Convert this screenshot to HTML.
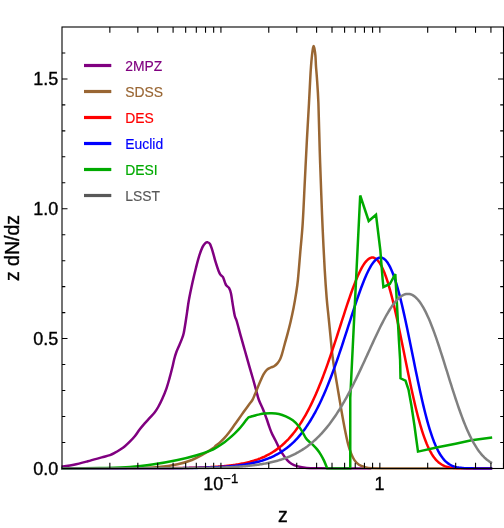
<!DOCTYPE html>
<html><head><meta charset="utf-8"><style>
html,body{margin:0;padding:0;background:#fff;}
svg{display:block;will-change:transform;font-family:"Liberation Sans",sans-serif;}
</style></head><body>
<svg width="504" height="528" viewBox="0 0 504 528">
<rect width="504" height="528" fill="#fff"/>
<defs><clipPath id="c"><rect x="61.4" y="27.0" width="442.1" height="442.8"/></clipPath></defs>
<g clip-path="url(#c)" fill="none" stroke-width="2.5" stroke-linejoin="round" stroke-linecap="square">
<path stroke="#800080" d="M62.30 466.50 C64.23 466.20 69.65 465.57 73.90 464.70 C78.15 463.82 83.17 462.47 87.80 461.25 C92.43 460.03 98.00 458.42 101.70 457.40 C105.40 456.38 107.78 455.88 110.00 455.10 C112.22 454.32 113.35 453.60 115.00 452.70 C116.65 451.80 118.25 450.78 119.90 449.70 C121.55 448.62 123.25 447.53 124.90 446.20 C126.55 444.87 128.15 443.35 129.80 441.70 C131.45 440.05 133.13 438.37 134.80 436.30 C136.47 434.23 138.15 431.45 139.80 429.30 C141.45 427.15 143.05 425.30 144.70 423.40 C146.35 421.50 148.05 419.72 149.70 417.90 C151.35 416.08 153.18 414.32 154.60 412.50 C156.02 410.68 156.92 409.29 158.20 407.00 C159.48 404.71 160.92 401.87 162.30 398.75 C163.68 395.63 165.28 391.78 166.50 388.30 C167.72 384.82 168.63 381.37 169.60 377.90 C170.57 374.43 171.53 370.62 172.30 367.50 C173.07 364.38 173.52 361.78 174.20 359.20 C174.88 356.62 175.57 354.28 176.40 352.00 C177.23 349.72 178.27 347.73 179.20 345.50 C180.13 343.27 181.24 340.68 182.00 338.60 C182.76 336.52 183.17 335.65 183.75 333.00 C184.33 330.35 184.93 326.30 185.50 322.70 C186.07 319.10 186.63 315.18 187.20 311.40 C187.77 307.62 187.98 304.97 188.90 300.00 C189.82 295.03 191.52 286.98 192.70 281.60 C193.88 276.22 194.92 272.00 196.00 267.70 C197.08 263.40 198.10 259.27 199.20 255.80 C200.30 252.33 201.53 249.05 202.60 246.90 C203.67 244.75 204.78 243.67 205.60 242.90 C206.42 242.13 206.78 242.13 207.50 242.30 C208.22 242.47 209.07 242.48 209.90 243.90 C210.73 245.32 211.57 247.83 212.50 250.80 C213.43 253.77 214.50 258.38 215.50 261.70 C216.50 265.02 217.68 268.55 218.50 270.70 C219.32 272.85 219.65 273.52 220.40 274.60 C221.15 275.68 222.23 275.87 223.00 277.20 C223.77 278.53 224.43 281.20 225.00 282.60 C225.57 284.00 225.73 284.72 226.40 285.60 C227.07 286.48 228.23 286.58 229.00 287.90 C229.77 289.22 230.35 290.58 231.00 293.50 C231.65 296.42 232.25 301.60 232.90 305.40 C233.55 309.20 234.27 313.70 234.90 316.30 C235.53 318.90 235.72 317.68 236.70 321.00 C237.68 324.32 239.42 331.20 240.80 336.20 C242.18 341.20 243.60 346.07 245.00 351.00 C246.40 355.93 247.82 360.97 249.20 365.80 C250.58 370.63 252.13 375.88 253.30 380.00 C254.47 384.12 255.27 387.17 256.20 390.50 C257.13 393.83 257.75 396.83 258.90 400.00 C260.05 403.17 261.83 406.42 263.10 409.50 C264.37 412.58 265.48 415.67 266.50 418.50 C267.52 421.33 268.30 424.00 269.20 426.50 C270.10 429.00 270.87 431.22 271.90 433.50 C272.93 435.78 274.23 437.85 275.40 440.20 C276.57 442.55 277.62 445.20 278.90 447.60 C280.18 450.00 281.72 452.50 283.10 454.60 C284.48 456.70 285.82 458.67 287.20 460.20 C288.58 461.73 289.78 462.82 291.40 463.80 C293.02 464.78 294.35 465.42 296.90 466.10 C299.45 466.78 302.95 467.53 306.70 467.90 C310.45 468.27 313.02 468.22 319.40 468.30 C325.78 468.38 336.57 468.38 345.00 468.40 C353.43 468.42 365.83 468.40 370.00 468.40"/>
<path stroke="#996633" d="M62.20 468.40 C73.50 468.37 113.93 468.42 130.00 468.20 C146.07 467.98 150.67 467.75 158.60 467.10 C166.53 466.45 172.05 465.48 177.60 464.30 C183.15 463.12 187.53 461.72 191.90 460.00 C196.27 458.28 200.23 455.98 203.80 454.00 C207.37 452.02 211.43 449.37 213.30 448.10 C215.17 446.83 213.93 447.31 215.00 446.40 C216.07 445.49 218.12 444.07 219.70 442.65 C221.28 441.23 222.92 439.64 224.50 437.90 C226.08 436.16 227.62 434.25 229.20 432.20 C230.78 430.15 232.42 427.80 234.00 425.60 C235.58 423.40 237.13 421.22 238.70 419.00 C240.27 416.78 241.82 414.52 243.40 412.30 C244.98 410.08 246.70 407.75 248.20 405.70 C249.70 403.65 251.30 401.85 252.40 400.00 C253.50 398.15 254.05 396.35 254.80 394.60 C255.55 392.85 256.00 391.68 256.90 389.50 C257.80 387.32 259.10 384.02 260.20 381.50 C261.30 378.98 262.40 376.35 263.50 374.40 C264.60 372.45 265.58 370.95 266.80 369.80 C268.02 368.65 269.58 368.10 270.80 367.50 C272.02 366.90 273.00 366.88 274.10 366.20 C275.20 365.52 276.40 364.57 277.40 363.40 C278.40 362.23 279.35 360.70 280.10 359.20 C280.85 357.70 281.15 356.85 281.90 354.40 C282.65 351.95 283.65 347.97 284.60 344.50 C285.55 341.03 286.60 337.40 287.60 333.60 C288.60 329.80 289.60 326.00 290.60 321.70 C291.60 317.40 292.70 312.43 293.60 307.80 C294.50 303.17 295.28 298.53 296.00 293.90 C296.72 289.27 297.18 286.98 297.90 280.00 C298.62 273.02 299.50 261.45 300.30 252.00 C301.10 242.55 301.95 235.02 302.70 223.30 C303.45 211.58 304.10 195.58 304.80 181.70 C305.50 167.82 306.20 153.12 306.90 140.00 C307.60 126.88 308.43 113.40 309.00 103.00 C309.57 92.60 309.97 83.68 310.30 77.60 C310.63 71.52 310.72 70.20 311.00 66.50 C311.28 62.80 311.67 58.48 312.00 55.40 C312.33 52.32 312.73 49.57 313.00 48.00 C313.27 46.43 313.43 46.00 313.65 46.00 C313.87 46.00 314.01 46.43 314.30 48.00 C314.59 49.57 315.12 52.32 315.40 55.40 C315.68 58.48 315.75 62.80 316.00 66.50 C316.25 70.20 316.50 71.52 316.90 77.60 C317.30 83.68 317.93 91.00 318.40 103.00 C318.87 115.00 319.22 134.27 319.70 149.60 C320.18 164.93 320.80 181.65 321.30 195.00 C321.80 208.35 322.13 217.30 322.70 229.70 C323.27 242.10 324.03 257.95 324.70 269.40 C325.37 280.85 326.05 290.42 326.70 298.40 C327.35 306.38 327.97 310.98 328.60 317.30 C329.23 323.62 329.93 330.52 330.50 336.30 C331.07 342.08 331.48 347.38 332.00 352.00 C332.52 356.62 333.08 360.50 333.60 364.00 C334.12 367.50 334.32 368.33 335.10 373.00 C335.88 377.67 337.22 385.58 338.30 392.00 C339.38 398.42 340.52 405.35 341.60 411.50 C342.68 417.65 343.72 423.47 344.80 428.90 C345.88 434.33 347.02 439.93 348.10 444.10 C349.18 448.27 350.22 451.18 351.30 453.90 C352.38 456.62 353.32 458.58 354.60 460.40 C355.88 462.22 357.37 463.70 359.00 464.80 C360.63 465.90 362.23 466.42 364.40 467.00 C366.57 467.58 366.07 468.07 372.00 468.30 C377.93 468.53 380.18 468.38 400.00 468.40 C419.82 468.42 475.78 468.40 490.93 468.40"/>
<path stroke="#ff0000" d="M62.01 468.40 L63.08 468.40 L64.15 468.40 L65.23 468.40 L66.30 468.40 L67.37 468.40 L68.44 468.40 L69.52 468.40 L70.59 468.40 L71.66 468.40 L72.73 468.40 L73.81 468.40 L74.88 468.40 L75.95 468.40 L77.02 468.40 L78.09 468.40 L79.17 468.40 L80.24 468.40 L81.31 468.40 L82.38 468.39 L83.46 468.39 L84.53 468.39 L85.60 468.39 L86.67 468.39 L87.75 468.39 L88.82 468.39 L89.89 468.39 L90.96 468.39 L92.03 468.39 L93.11 468.39 L94.18 468.39 L95.25 468.39 L96.32 468.39 L97.40 468.39 L98.47 468.39 L99.54 468.39 L100.61 468.39 L101.69 468.39 L102.76 468.39 L103.83 468.39 L104.90 468.39 L105.97 468.39 L107.05 468.38 L108.12 468.38 L109.19 468.38 L110.26 468.38 L111.34 468.38 L112.41 468.38 L113.48 468.38 L114.55 468.38 L115.63 468.38 L116.70 468.38 L117.77 468.38 L118.84 468.37 L119.91 468.37 L120.99 468.37 L122.06 468.37 L123.13 468.37 L124.20 468.37 L125.28 468.37 L126.35 468.37 L127.42 468.36 L128.49 468.36 L129.56 468.36 L130.64 468.36 L131.71 468.36 L132.78 468.35 L133.85 468.35 L134.93 468.35 L136.00 468.35 L137.07 468.34 L138.14 468.34 L139.22 468.34 L140.29 468.34 L141.36 468.33 L142.43 468.33 L143.50 468.33 L144.58 468.32 L145.65 468.32 L146.72 468.32 L147.79 468.31 L148.87 468.31 L149.94 468.30 L151.01 468.30 L152.08 468.29 L153.16 468.29 L154.23 468.28 L155.30 468.28 L156.37 468.27 L157.44 468.27 L158.52 468.26 L159.59 468.25 L160.66 468.25 L161.73 468.24 L162.81 468.23 L163.88 468.22 L164.95 468.22 L166.02 468.21 L167.10 468.20 L168.17 468.19 L169.24 468.18 L170.31 468.17 L171.38 468.16 L172.46 468.15 L173.53 468.13 L174.60 468.12 L175.67 468.11 L176.75 468.09 L177.82 468.08 L178.89 468.06 L179.96 468.05 L181.04 468.03 L182.11 468.01 L183.18 468.00 L184.25 467.98 L185.32 467.96 L186.40 467.94 L187.47 467.92 L188.54 467.89 L189.61 467.87 L190.69 467.84 L191.76 467.82 L192.83 467.79 L193.90 467.76 L194.98 467.73 L196.05 467.70 L197.12 467.67 L198.19 467.63 L199.26 467.60 L200.34 467.56 L201.41 467.52 L202.48 467.48 L203.55 467.44 L204.63 467.39 L205.70 467.35 L206.77 467.30 L207.84 467.25 L208.92 467.19 L209.99 467.14 L211.06 467.08 L212.13 467.02 L213.20 466.96 L214.28 466.89 L215.35 466.82 L216.42 466.75 L217.49 466.67 L218.57 466.59 L219.64 466.51 L220.71 466.42 L221.78 466.33 L222.86 466.24 L223.93 466.14 L225.00 466.03 L226.07 465.92 L227.14 465.81 L228.22 465.69 L229.29 465.57 L230.36 465.44 L231.43 465.31 L232.51 465.17 L233.58 465.02 L234.65 464.87 L235.72 464.71 L236.80 464.54 L237.87 464.36 L238.94 464.18 L240.01 463.99 L241.08 463.80 L242.16 463.59 L243.23 463.37 L244.30 463.15 L245.37 462.91 L246.45 462.67 L247.52 462.41 L248.59 462.15 L249.66 461.87 L250.73 461.58 L251.81 461.28 L252.88 460.97 L253.95 460.64 L255.02 460.30 L256.10 459.94 L257.17 459.57 L258.24 459.19 L259.31 458.78 L260.39 458.37 L261.46 457.93 L262.53 457.48 L263.60 457.01 L264.67 456.51 L265.75 456.00 L266.82 455.47 L267.89 454.92 L268.96 454.35 L270.04 453.75 L271.11 453.13 L272.18 452.48 L273.25 451.81 L274.33 451.11 L275.40 450.39 L276.47 449.64 L277.54 448.86 L278.61 448.05 L279.69 447.21 L280.76 446.34 L281.83 445.43 L282.90 444.49 L283.98 443.52 L285.05 442.51 L286.12 441.47 L287.19 440.39 L288.27 439.27 L289.34 438.11 L290.41 436.91 L291.48 435.66 L292.55 434.38 L293.63 433.05 L294.70 431.68 L295.77 430.26 L296.84 428.79 L297.92 427.28 L298.99 425.72 L300.06 424.11 L301.13 422.45 L302.21 420.73 L303.28 418.97 L304.35 417.15 L305.42 415.28 L306.49 413.35 L307.57 411.37 L308.64 409.34 L309.71 407.24 L310.78 405.09 L311.86 402.89 L312.93 400.63 L314.00 398.30 L315.07 395.93 L316.15 393.49 L317.22 391.00 L318.29 388.45 L319.36 385.84 L320.43 383.18 L321.51 380.47 L322.58 377.70 L323.65 374.87 L324.72 372.00 L325.80 369.08 L326.87 366.10 L327.94 363.08 L329.01 360.02 L330.09 356.91 L331.16 353.77 L332.23 350.59 L333.30 347.37 L334.37 344.13 L335.45 340.86 L336.52 337.56 L337.59 334.25 L338.66 330.92 L339.74 327.59 L340.81 324.25 L341.88 320.91 L342.95 317.58 L344.03 314.27 L345.10 310.97 L346.17 307.70 L347.24 304.46 L348.31 301.26 L349.39 298.11 L350.46 295.01 L351.53 291.97 L352.60 289.01 L353.68 286.12 L354.75 283.33 L355.82 280.62 L356.89 278.03 L357.97 275.54 L359.04 273.18 L360.11 270.95 L361.18 268.86 L362.25 266.92 L363.33 265.14 L364.40 263.53 L365.47 262.09 L366.54 260.84 L367.62 259.77 L368.69 258.91 L369.76 258.25 L370.83 257.81 L371.90 257.59 L372.98 257.59 L374.05 257.83 L375.12 258.30 L376.19 259.01 L377.27 259.97 L378.34 261.17 L379.41 262.62 L380.48 264.32 L381.56 266.26 L382.63 268.45 L383.70 270.89 L384.77 273.57 L385.84 276.48 L386.92 279.62 L387.99 282.99 L389.06 286.58 L390.13 290.37 L391.21 294.37 L392.28 298.55 L393.35 302.91 L394.42 307.43 L395.50 312.10 L396.57 316.91 L397.64 321.84 L398.71 326.88 L399.78 332.01 L400.86 337.20 L401.93 342.46 L403.00 347.75 L404.07 353.07 L405.15 358.38 L406.22 363.69 L407.29 368.96 L408.36 374.19 L409.44 379.36 L410.51 384.44 L411.58 389.43 L412.65 394.32 L413.72 399.08 L414.80 403.71 L415.87 408.19 L416.94 412.52 L418.01 416.69 L419.09 420.68 L420.16 424.50 L421.23 428.14 L422.30 431.59 L423.38 434.85 L424.45 437.93 L425.52 440.81 L426.59 443.51 L427.66 446.02 L428.74 448.35 L429.81 450.51 L430.88 452.49 L431.95 454.31 L433.03 455.97 L434.10 457.48 L435.17 458.85 L436.24 460.08 L437.32 461.18 L438.39 462.16 L439.46 463.04 L440.53 463.81 L441.60 464.49 L442.68 465.09 L443.75 465.61 L444.82 466.06 L445.89 466.44 L446.97 466.78 L448.04 467.06 L449.11 467.30 L450.18 467.50 L451.26 467.67 L452.33 467.81 L453.40 467.93 L454.47 468.02 L455.54 468.10 L456.62 468.17 L457.69 468.22 L458.76 468.26 L459.83 468.29 L460.91 468.32 L461.98 468.34 L463.05 468.35 L464.12 468.36 L465.20 468.37 L466.27 468.38 L467.34 468.39 L468.41 468.39 L469.48 468.39 L470.56 468.39 L471.63 468.40 L472.70 468.40 L473.77 468.40 L474.85 468.40 L475.92 468.40 L476.99 468.40 L478.06 468.40 L479.14 468.40 L480.21 468.40 L481.28 468.40 L482.35 468.40 L483.42 468.40 L484.50 468.40 L485.57 468.40 L486.64 468.40 L487.71 468.40 L488.79 468.40 L489.86 468.40 L490.93 468.40"/>
<path stroke="#0000ff" d="M62.01 468.40 L63.08 468.40 L64.15 468.40 L65.23 468.40 L66.30 468.40 L67.37 468.40 L68.44 468.40 L69.52 468.40 L70.59 468.40 L71.66 468.40 L72.73 468.40 L73.81 468.40 L74.88 468.40 L75.95 468.40 L77.02 468.40 L78.09 468.40 L79.17 468.40 L80.24 468.40 L81.31 468.40 L82.38 468.40 L83.46 468.40 L84.53 468.40 L85.60 468.40 L86.67 468.40 L87.75 468.40 L88.82 468.40 L89.89 468.39 L90.96 468.39 L92.03 468.39 L93.11 468.39 L94.18 468.39 L95.25 468.39 L96.32 468.39 L97.40 468.39 L98.47 468.39 L99.54 468.39 L100.61 468.39 L101.69 468.39 L102.76 468.39 L103.83 468.39 L104.90 468.39 L105.97 468.39 L107.05 468.39 L108.12 468.39 L109.19 468.39 L110.26 468.39 L111.34 468.39 L112.41 468.39 L113.48 468.39 L114.55 468.39 L115.63 468.38 L116.70 468.38 L117.77 468.38 L118.84 468.38 L119.91 468.38 L120.99 468.38 L122.06 468.38 L123.13 468.38 L124.20 468.38 L125.28 468.38 L126.35 468.38 L127.42 468.37 L128.49 468.37 L129.56 468.37 L130.64 468.37 L131.71 468.37 L132.78 468.37 L133.85 468.37 L134.93 468.36 L136.00 468.36 L137.07 468.36 L138.14 468.36 L139.22 468.36 L140.29 468.36 L141.36 468.35 L142.43 468.35 L143.50 468.35 L144.58 468.35 L145.65 468.34 L146.72 468.34 L147.79 468.34 L148.87 468.33 L149.94 468.33 L151.01 468.33 L152.08 468.33 L153.16 468.32 L154.23 468.32 L155.30 468.31 L156.37 468.31 L157.44 468.31 L158.52 468.30 L159.59 468.30 L160.66 468.29 L161.73 468.29 L162.81 468.28 L163.88 468.28 L164.95 468.27 L166.02 468.26 L167.10 468.26 L168.17 468.25 L169.24 468.24 L170.31 468.24 L171.38 468.23 L172.46 468.22 L173.53 468.21 L174.60 468.20 L175.67 468.19 L176.75 468.18 L177.82 468.17 L178.89 468.16 L179.96 468.15 L181.04 468.14 L182.11 468.13 L183.18 468.12 L184.25 468.10 L185.32 468.09 L186.40 468.07 L187.47 468.06 L188.54 468.04 L189.61 468.02 L190.69 468.01 L191.76 467.99 L192.83 467.97 L193.90 467.95 L194.98 467.93 L196.05 467.91 L197.12 467.88 L198.19 467.86 L199.26 467.83 L200.34 467.81 L201.41 467.78 L202.48 467.75 L203.55 467.72 L204.63 467.69 L205.70 467.65 L206.77 467.62 L207.84 467.58 L208.92 467.55 L209.99 467.51 L211.06 467.46 L212.13 467.42 L213.20 467.38 L214.28 467.33 L215.35 467.28 L216.42 467.23 L217.49 467.17 L218.57 467.11 L219.64 467.06 L220.71 466.99 L221.78 466.93 L222.86 466.86 L223.93 466.79 L225.00 466.72 L226.07 466.64 L227.14 466.56 L228.22 466.47 L229.29 466.38 L230.36 466.29 L231.43 466.19 L232.51 466.09 L233.58 465.99 L234.65 465.88 L235.72 465.76 L236.80 465.64 L237.87 465.52 L238.94 465.39 L240.01 465.25 L241.08 465.11 L242.16 464.96 L243.23 464.80 L244.30 464.64 L245.37 464.47 L246.45 464.29 L247.52 464.10 L248.59 463.91 L249.66 463.71 L250.73 463.50 L251.81 463.28 L252.88 463.05 L253.95 462.81 L255.02 462.56 L256.10 462.30 L257.17 462.03 L258.24 461.75 L259.31 461.46 L260.39 461.15 L261.46 460.83 L262.53 460.50 L263.60 460.15 L264.67 459.79 L265.75 459.41 L266.82 459.02 L267.89 458.61 L268.96 458.19 L270.04 457.74 L271.11 457.28 L272.18 456.80 L273.25 456.30 L274.33 455.78 L275.40 455.24 L276.47 454.68 L277.54 454.10 L278.61 453.49 L279.69 452.86 L280.76 452.20 L281.83 451.52 L282.90 450.81 L283.98 450.08 L285.05 449.31 L286.12 448.52 L287.19 447.70 L288.27 446.85 L289.34 445.96 L290.41 445.04 L291.48 444.09 L292.55 443.10 L293.63 442.08 L294.70 441.02 L295.77 439.92 L296.84 438.78 L297.92 437.61 L298.99 436.39 L300.06 435.13 L301.13 433.83 L302.21 432.48 L303.28 431.09 L304.35 429.65 L305.42 428.17 L306.49 426.63 L307.57 425.05 L308.64 423.42 L309.71 421.74 L310.78 420.00 L311.86 418.21 L312.93 416.37 L314.00 414.48 L315.07 412.53 L316.15 410.53 L317.22 408.47 L318.29 406.35 L319.36 404.18 L320.43 401.95 L321.51 399.66 L322.58 397.32 L323.65 394.91 L324.72 392.45 L325.80 389.94 L326.87 387.37 L327.94 384.74 L329.01 382.05 L330.09 379.31 L331.16 376.52 L332.23 373.68 L333.30 370.78 L334.37 367.84 L335.45 364.84 L336.52 361.81 L337.59 358.72 L338.66 355.60 L339.74 352.44 L340.81 349.24 L341.88 346.02 L342.95 342.76 L344.03 339.48 L345.10 336.18 L346.17 332.86 L347.24 329.53 L348.31 326.19 L349.39 322.85 L350.46 319.52 L351.53 316.19 L352.60 312.88 L353.68 309.59 L354.75 306.34 L355.82 303.11 L356.89 299.93 L357.97 296.80 L359.04 293.73 L360.11 290.72 L361.18 287.79 L362.25 284.94 L363.33 282.18 L364.40 279.52 L365.47 276.97 L366.54 274.54 L367.62 272.23 L368.69 270.06 L369.76 268.03 L370.83 266.16 L371.90 264.45 L372.98 262.90 L374.05 261.54 L375.12 260.37 L376.19 259.39 L377.27 258.61 L378.34 258.04 L379.41 257.69 L380.48 257.56 L381.56 257.66 L382.63 258.00 L383.70 258.57 L384.77 259.38 L385.84 260.44 L386.92 261.75 L387.99 263.30 L389.06 265.10 L390.13 267.15 L391.21 269.44 L392.28 271.98 L393.35 274.76 L394.42 277.77 L395.50 281.01 L396.57 284.47 L397.64 288.14 L398.71 292.02 L399.78 296.10 L400.86 300.36 L401.93 304.78 L403.00 309.37 L404.07 314.10 L405.15 318.96 L406.22 323.94 L407.29 329.02 L408.36 334.18 L409.44 339.40 L410.51 344.67 L411.58 349.98 L412.65 355.29 L413.72 360.61 L414.80 365.90 L415.87 371.16 L416.94 376.36 L418.01 381.50 L419.09 386.54 L420.16 391.49 L421.23 396.33 L422.30 401.03 L423.38 405.60 L424.45 410.02 L425.52 414.29 L426.59 418.38 L427.66 422.30 L428.74 426.05 L429.81 429.61 L430.88 432.98 L431.95 436.16 L433.03 439.16 L434.10 441.96 L435.17 444.58 L436.24 447.02 L437.32 449.28 L438.39 451.36 L439.46 453.27 L440.53 455.03 L441.60 456.62 L442.68 458.07 L443.75 459.38 L444.82 460.55 L445.89 461.61 L446.97 462.54 L448.04 463.37 L449.11 464.11 L450.18 464.75 L451.26 465.32 L452.33 465.80 L453.40 466.23 L454.47 466.59 L455.54 466.90 L456.62 467.17 L457.69 467.39 L458.76 467.58 L459.83 467.73 L460.91 467.86 L461.98 467.97 L463.05 468.06 L464.12 468.13 L465.20 468.19 L466.27 468.24 L467.34 468.27 L468.41 468.30 L469.48 468.33 L470.56 468.34 L471.63 468.36 L472.70 468.37 L473.77 468.38 L474.85 468.38 L475.92 468.39 L476.99 468.39 L478.06 468.39 L479.14 468.40 L480.21 468.40 L481.28 468.40 L482.35 468.40 L483.42 468.40 L484.50 468.40 L485.57 468.40 L486.64 468.40 L487.71 468.40 L488.79 468.40 L489.86 468.40 L490.93 468.40"/>
<path stroke="#00aa00" stroke-linejoin="miter" stroke-miterlimit="3.25" d="M62.20 468.40 C68.50 468.33 88.70 468.22 100.00 468.00 C111.30 467.78 121.03 467.72 130.00 467.10 C138.97 466.48 145.87 465.48 153.80 464.30 C161.73 463.12 170.45 461.52 177.60 460.00 C184.75 458.48 191.13 456.82 196.70 455.20 C202.27 453.58 207.95 451.45 211.00 450.30 C214.05 449.15 213.55 449.10 215.00 448.30 C216.45 447.50 218.12 446.52 219.70 445.50 C221.28 444.48 222.92 443.38 224.50 442.20 C226.08 441.02 227.62 439.75 229.20 438.40 C230.78 437.05 232.42 435.60 234.00 434.10 C235.58 432.60 237.13 431.13 238.70 429.40 C240.27 427.67 242.13 425.28 243.40 423.70 C244.67 422.12 245.43 420.97 246.30 419.90 C247.17 418.82 248.22 417.69 248.60 417.25 C249.17 417.09 250.93 416.60 252.00 416.30 C253.07 416.00 253.95 415.73 255.00 415.45 C256.05 415.17 256.75 414.93 258.30 414.60 C259.85 414.28 262.03 413.73 264.30 413.50 C266.57 413.27 269.47 413.12 271.90 413.20 C274.33 413.28 276.58 413.47 278.90 414.00 C281.22 414.53 283.48 415.35 285.80 416.40 C288.12 417.45 290.72 418.73 292.80 420.30 C294.88 421.87 296.68 423.83 298.30 425.80 C299.92 427.77 301.22 430.02 302.50 432.10 C303.78 434.18 304.85 436.68 306.00 438.30 C307.15 439.92 308.25 440.70 309.40 441.80 C310.55 442.90 311.62 443.63 312.90 444.90 C314.18 446.17 315.82 447.83 317.10 449.40 C318.38 450.97 319.45 452.43 320.60 454.30 C321.75 456.17 322.90 458.25 324.00 460.60 C325.10 462.95 326.67 467.10 327.20 468.40 L327.20 468.40 L350.25 468.40 L350.25 398.00 L360.20 195.50 L368.70 221.00 L376.00 214.80 L380.30 250.00 L382.70 280.00 L383.40 287.00 L389.80 284.00 L395.30 274.00 L398.90 340.00 L400.10 359.80 L400.50 378.30 L405.50 380.70 L408.50 389.60 L411.40 405.50 L414.40 425.30 L416.40 440.00 L418.00 451.60 L437.70 447.20 L455.60 443.70 L471.50 440.30 L490.93 437.70"/>
<path stroke="#808080" d="M62.01 468.40 L63.08 468.40 L64.15 468.40 L65.23 468.40 L66.30 468.40 L67.37 468.40 L68.44 468.40 L69.52 468.40 L70.59 468.40 L71.66 468.40 L72.73 468.40 L73.81 468.40 L74.88 468.40 L75.95 468.40 L77.02 468.40 L78.09 468.40 L79.17 468.40 L80.24 468.40 L81.31 468.40 L82.38 468.40 L83.46 468.40 L84.53 468.40 L85.60 468.40 L86.67 468.40 L87.75 468.40 L88.82 468.40 L89.89 468.40 L90.96 468.40 L92.03 468.40 L93.11 468.40 L94.18 468.40 L95.25 468.40 L96.32 468.40 L97.40 468.40 L98.47 468.40 L99.54 468.39 L100.61 468.39 L101.69 468.39 L102.76 468.39 L103.83 468.39 L104.90 468.39 L105.97 468.39 L107.05 468.39 L108.12 468.39 L109.19 468.39 L110.26 468.39 L111.34 468.39 L112.41 468.39 L113.48 468.39 L114.55 468.39 L115.63 468.39 L116.70 468.39 L117.77 468.39 L118.84 468.39 L119.91 468.39 L120.99 468.39 L122.06 468.39 L123.13 468.39 L124.20 468.39 L125.28 468.38 L126.35 468.38 L127.42 468.38 L128.49 468.38 L129.56 468.38 L130.64 468.38 L131.71 468.38 L132.78 468.38 L133.85 468.38 L134.93 468.38 L136.00 468.38 L137.07 468.37 L138.14 468.37 L139.22 468.37 L140.29 468.37 L141.36 468.37 L142.43 468.37 L143.50 468.37 L144.58 468.36 L145.65 468.36 L146.72 468.36 L147.79 468.36 L148.87 468.36 L149.94 468.36 L151.01 468.35 L152.08 468.35 L153.16 468.35 L154.23 468.35 L155.30 468.34 L156.37 468.34 L157.44 468.34 L158.52 468.34 L159.59 468.33 L160.66 468.33 L161.73 468.33 L162.81 468.32 L163.88 468.32 L164.95 468.32 L166.02 468.31 L167.10 468.31 L168.17 468.30 L169.24 468.30 L170.31 468.30 L171.38 468.29 L172.46 468.29 L173.53 468.28 L174.60 468.27 L175.67 468.27 L176.75 468.26 L177.82 468.26 L178.89 468.25 L179.96 468.24 L181.04 468.24 L182.11 468.23 L183.18 468.22 L184.25 468.21 L185.32 468.20 L186.40 468.19 L187.47 468.19 L188.54 468.18 L189.61 468.17 L190.69 468.15 L191.76 468.14 L192.83 468.13 L193.90 468.12 L194.98 468.11 L196.05 468.09 L197.12 468.08 L198.19 468.07 L199.26 468.05 L200.34 468.03 L201.41 468.02 L202.48 468.00 L203.55 467.98 L204.63 467.96 L205.70 467.94 L206.77 467.92 L207.84 467.90 L208.92 467.88 L209.99 467.86 L211.06 467.83 L212.13 467.81 L213.20 467.78 L214.28 467.75 L215.35 467.72 L216.42 467.69 L217.49 467.66 L218.57 467.63 L219.64 467.59 L220.71 467.56 L221.78 467.52 L222.86 467.48 L223.93 467.44 L225.00 467.40 L226.07 467.35 L227.14 467.31 L228.22 467.26 L229.29 467.21 L230.36 467.16 L231.43 467.10 L232.51 467.04 L233.58 466.98 L234.65 466.92 L235.72 466.86 L236.80 466.79 L237.87 466.72 L238.94 466.65 L240.01 466.57 L241.08 466.49 L242.16 466.41 L243.23 466.32 L244.30 466.23 L245.37 466.14 L246.45 466.04 L247.52 465.94 L248.59 465.84 L249.66 465.73 L250.73 465.61 L251.81 465.49 L252.88 465.37 L253.95 465.24 L255.02 465.11 L256.10 464.97 L257.17 464.82 L258.24 464.67 L259.31 464.51 L260.39 464.35 L261.46 464.18 L262.53 464.00 L263.60 463.82 L264.67 463.63 L265.75 463.43 L266.82 463.23 L267.89 463.01 L268.96 462.79 L270.04 462.56 L271.11 462.32 L272.18 462.07 L273.25 461.81 L274.33 461.54 L275.40 461.26 L276.47 460.98 L277.54 460.68 L278.61 460.36 L279.69 460.04 L280.76 459.71 L281.83 459.36 L282.90 459.00 L283.98 458.63 L285.05 458.24 L286.12 457.84 L287.19 457.42 L288.27 456.99 L289.34 456.55 L290.41 456.09 L291.48 455.61 L292.55 455.12 L293.63 454.60 L294.70 454.08 L295.77 453.53 L296.84 452.96 L297.92 452.38 L298.99 451.77 L300.06 451.15 L301.13 450.50 L302.21 449.83 L303.28 449.14 L304.35 448.43 L305.42 447.70 L306.49 446.94 L307.57 446.16 L308.64 445.35 L309.71 444.52 L310.78 443.66 L311.86 442.78 L312.93 441.87 L314.00 440.93 L315.07 439.97 L316.15 438.97 L317.22 437.95 L318.29 436.90 L319.36 435.81 L320.43 434.70 L321.51 433.56 L322.58 432.38 L323.65 431.18 L324.72 429.94 L325.80 428.67 L326.87 427.36 L327.94 426.03 L329.01 424.65 L330.09 423.25 L331.16 421.81 L332.23 420.34 L333.30 418.83 L334.37 417.28 L335.45 415.71 L336.52 414.09 L337.59 412.44 L338.66 410.76 L339.74 409.04 L340.81 407.29 L341.88 405.50 L342.95 403.68 L344.03 401.83 L345.10 399.94 L346.17 398.02 L347.24 396.06 L348.31 394.08 L349.39 392.06 L350.46 390.01 L351.53 387.94 L352.60 385.83 L353.68 383.70 L354.75 381.54 L355.82 379.35 L356.89 377.14 L357.97 374.91 L359.04 372.66 L360.11 370.39 L361.18 368.10 L362.25 365.80 L363.33 363.48 L364.40 361.15 L365.47 358.81 L366.54 356.46 L367.62 354.11 L368.69 351.76 L369.76 349.41 L370.83 347.06 L371.90 344.71 L372.98 342.38 L374.05 340.06 L375.12 337.75 L376.19 335.46 L377.27 333.19 L378.34 330.95 L379.41 328.74 L380.48 326.56 L381.56 324.41 L382.63 322.31 L383.70 320.25 L384.77 318.23 L385.84 316.27 L386.92 314.37 L387.99 312.52 L389.06 310.74 L390.13 309.02 L391.21 307.38 L392.28 305.81 L393.35 304.32 L394.42 302.91 L395.50 301.60 L396.57 300.37 L397.64 299.24 L398.71 298.21 L399.78 297.28 L400.86 296.45 L401.93 295.74 L403.00 295.13 L404.07 294.64 L405.15 294.27 L406.22 294.02 L407.29 293.90 L408.36 293.90 L409.44 294.02 L410.51 294.28 L411.58 294.67 L412.65 295.18 L413.72 295.83 L414.80 296.62 L415.87 297.53 L416.94 298.58 L418.01 299.77 L419.09 301.08 L420.16 302.53 L421.23 304.10 L422.30 305.81 L423.38 307.64 L424.45 309.59 L425.52 311.67 L426.59 313.86 L427.66 316.16 L428.74 318.58 L429.81 321.10 L430.88 323.73 L431.95 326.45 L433.03 329.26 L434.10 332.16 L435.17 335.14 L436.24 338.19 L437.32 341.32 L438.39 344.50 L439.46 347.75 L440.53 351.04 L441.60 354.38 L442.68 357.75 L443.75 361.15 L444.82 364.57 L445.89 368.01 L446.97 371.45 L448.04 374.90 L449.11 378.34 L450.18 381.77 L451.26 385.18 L452.33 388.56 L453.40 391.91 L454.47 395.23 L455.54 398.50 L456.62 401.72 L457.69 404.88 L458.76 407.99 L459.83 411.03 L460.91 414.00 L461.98 416.90 L463.05 419.72 L464.12 422.46 L465.20 425.11 L466.27 427.69 L467.34 430.17 L468.41 432.56 L469.48 434.86 L470.56 437.07 L471.63 439.19 L472.70 441.21 L473.77 443.14 L474.85 444.98 L475.92 446.72 L476.99 448.38 L478.06 449.94 L479.14 451.42 L480.21 452.81 L481.28 454.11 L482.35 455.34 L483.42 456.48 L484.50 457.55 L485.57 458.54 L486.64 459.46 L487.71 460.32 L488.79 461.11 L489.86 461.84 L490.93 462.51"/>
</g>
<g stroke="#000" stroke-width="1.1" fill="none">
<path d="M109.85 468.50 v-5.70 M109.85 27.00 v5.70"/>
<path d="M137.83 468.50 v-5.70 M137.83 27.00 v5.70"/>
<path d="M157.69 468.50 v-5.70 M157.69 27.00 v5.70"/>
<path d="M173.09 468.50 v-5.70 M173.09 27.00 v5.70"/>
<path d="M185.67 468.50 v-5.70 M185.67 27.00 v5.70"/>
<path d="M196.31 468.50 v-5.70 M196.31 27.00 v5.70"/>
<path d="M205.53 468.50 v-5.70 M205.53 27.00 v5.70"/>
<path d="M213.66 468.50 v-5.70 M213.66 27.00 v5.70"/>
<path d="M220.93 468.50 v-5.70 M220.93 27.00 v5.70"/>
<path d="M268.77 468.50 v-5.70 M268.77 27.00 v5.70"/>
<path d="M296.75 468.50 v-5.70 M296.75 27.00 v5.70"/>
<path d="M316.61 468.50 v-5.70 M316.61 27.00 v5.70"/>
<path d="M332.01 468.50 v-5.70 M332.01 27.00 v5.70"/>
<path d="M344.59 468.50 v-5.70 M344.59 27.00 v5.70"/>
<path d="M355.23 468.50 v-5.70 M355.23 27.00 v5.70"/>
<path d="M364.45 468.50 v-5.70 M364.45 27.00 v5.70"/>
<path d="M372.58 468.50 v-5.70 M372.58 27.00 v5.70"/>
<path d="M379.85 468.50 v-5.70 M379.85 27.00 v5.70"/>
<path d="M427.69 468.50 v-5.70 M427.69 27.00 v5.70"/>
<path d="M455.67 468.50 v-5.70 M455.67 27.00 v5.70"/>
<path d="M475.53 468.50 v-5.70 M475.53 27.00 v5.70"/>
<path d="M490.93 468.50 v-5.70 M490.93 27.00 v5.70"/>
<path d="M503.51 468.50 v-5.70 M503.51 27.00 v5.70"/>
<path d="M62.00 442.44 h3.30 M503.50 442.44 h-3.30"/>
<path d="M62.00 416.47 h3.30 M503.50 416.47 h-3.30"/>
<path d="M62.00 390.50 h3.30 M503.50 390.50 h-3.30"/>
<path d="M62.00 364.54 h3.30 M503.50 364.54 h-3.30"/>
<path d="M62.00 338.57 h5.50 M503.50 338.57 h-5.50"/>
<path d="M62.00 312.61 h3.30 M503.50 312.61 h-3.30"/>
<path d="M62.00 286.64 h3.30 M503.50 286.64 h-3.30"/>
<path d="M62.00 260.68 h3.30 M503.50 260.68 h-3.30"/>
<path d="M62.00 234.72 h3.30 M503.50 234.72 h-3.30"/>
<path d="M62.00 208.75 h5.50 M503.50 208.75 h-5.50"/>
<path d="M62.00 182.78 h3.30 M503.50 182.78 h-3.30"/>
<path d="M62.00 156.82 h3.30 M503.50 156.82 h-3.30"/>
<path d="M62.00 130.86 h3.30 M503.50 130.86 h-3.30"/>
<path d="M62.00 104.89 h3.30 M503.50 104.89 h-3.30"/>
<path d="M62.00 78.93 h5.50 M503.50 78.93 h-5.50"/>
<path d="M62.00 52.96 h3.30 M503.50 52.96 h-3.30"/>
<rect x="62.0" y="27.0" width="441.5" height="441.5"/>
</g>
<path d="M84 65.5 H111.3" stroke="#800080" stroke-width="3.2" fill="none"/>
<text x="125.3" y="70.6" fill="#800080" stroke="#800080" stroke-width="0.15" font-size="13.9">2MPZ</text>
<path d="M84 91.5 H111.3" stroke="#996633" stroke-width="3.2" fill="none"/>
<text x="125.3" y="96.6" fill="#996633" stroke="#996633" stroke-width="0.15" font-size="13.9">SDSS</text>
<path d="M84 117.5 H111.3" stroke="#ff0000" stroke-width="3.2" fill="none"/>
<text x="125.3" y="122.6" fill="#ff0000" stroke="#ff0000" stroke-width="0.15" font-size="13.9">DES</text>
<path d="M84 143.5 H111.3" stroke="#0000ff" stroke-width="3.2" fill="none"/>
<text x="125.3" y="148.6" fill="#0000ff" stroke="#0000ff" stroke-width="0.15" font-size="13.9">Euclid</text>
<path d="M84 169.5 H111.3" stroke="#00aa00" stroke-width="3.2" fill="none"/>
<text x="125.3" y="174.6" fill="#00aa00" stroke="#00aa00" stroke-width="0.15" font-size="13.9">DESI</text>
<path d="M84 195.5 H111.3" stroke="#585858" stroke-width="3.2" fill="none"/>
<text x="125.3" y="200.6" fill="#585858" stroke="#585858" stroke-width="0.15" font-size="13.9">LSST</text>

<g fill="#000" stroke="#000" stroke-width="0.35" font-size="18">
<text x="58.2" y="85.38" text-anchor="end">1.5</text>
<text x="58.2" y="215.20" text-anchor="end">1.0</text>
<text x="58.2" y="345.02" text-anchor="end">0.5</text>
<text x="58.2" y="474.85" text-anchor="end">0.0</text>
<text x="203.2" y="489.9">10</text>
<text x="223.3" y="482.7" font-size="13">−1</text>
<text x="379.6" y="489.9" text-anchor="middle">1</text>
<text x="282.9" y="521.6" text-anchor="middle" font-size="19.5">z</text>
<text transform="translate(18.8 248) rotate(-90)" text-anchor="middle" font-size="19.5">z dN/dz</text>
</g>
</svg>
</body></html>
